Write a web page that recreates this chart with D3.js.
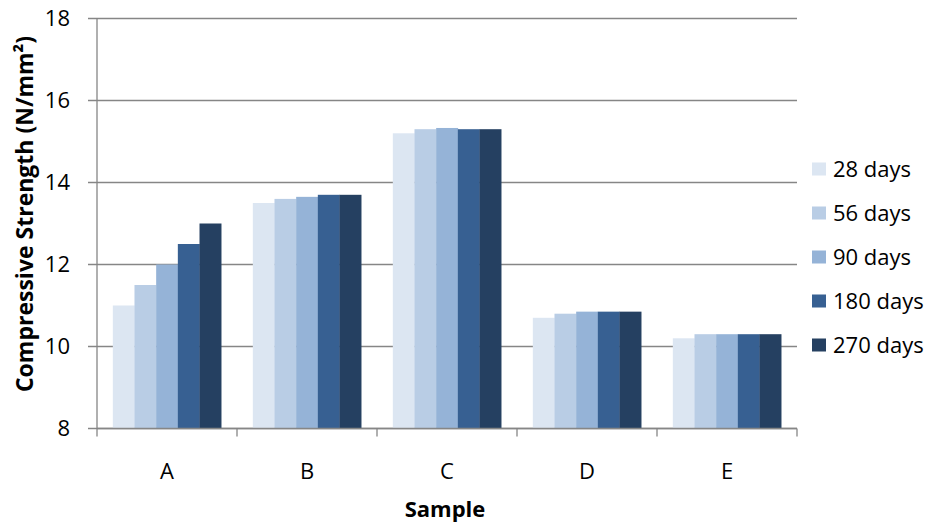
<!DOCTYPE html>
<html>
<head>
<meta charset="utf-8">
<script src="https://cdn.jsdelivr.net/npm/d3@7"></script>
<style>
  body { margin: 0; background: #fff; }
  svg { display: block; font-family: "Open Sans", sans-serif; }
</style>
</head>
<body>
<svg id="chart" width="930" height="524"></svg>
<script>
'use strict';

// - data
var samples = ['A', 'B', 'C', 'D', 'E'];
var ages = ['28 days', '56 days', '90 days', '180 days', '270 days'];
var colours = ['#dce6f2', '#b9cde5', '#95b3d7', '#376092', '#254061'];

var days28  = [11.0, 13.5, 15.2, 10.7, 10.2];
var days56  = [11.5, 13.6, 15.3, 10.8, 10.3];
var days90  = [12.0, 13.65, 15.33, 10.85, 10.3];
var days180 = [12.5, 13.7, 15.3, 10.85, 10.3];
var days270 = [13.0, 13.7, 15.3, 10.85, 10.3];
var series = [days28, days56, days90, days180, days270];

var yTicks = [8, 10, 12, 14, 16, 18];

// - layout
var plot = { left: 97, right: 797, top: 18.5, bottom: 428.5 };
var axisGrey = '#868686';

var svg = d3.select('#chart');

var x0 = d3.scaleBand()
	.domain(samples)
	.range([plot.left, plot.right])
	.padding(0);

var x1 = d3.scaleBand()
	.domain(ages)
	.range([0, x0.bandwidth()])
	.paddingInner(0)
	.paddingOuter(0.73);

var y = d3.scaleLinear()
	.domain([8, 18])
	.range([plot.bottom, plot.top]);

// gridlines (with the short outside tick on the left)
svg.append('g')
	.selectAll('line')
	.data(yTicks)
	.join('line')
		.attr('x1', plot.left - 9)
		.attr('x2', plot.right)
		.attr('y1', d => y(d))
		.attr('y2', d => y(d))
		.attr('stroke', axisGrey)
		.attr('stroke-width', 1.3);

// bars
var rows = [];
samples.forEach((s, i) => {
	ages.forEach((a, j) => {
		rows.push({ sample: s, age: a, value: series[j][i], colour: colours[j] });
	});
});

svg.append('g')
	.selectAll('rect')
	.data(rows)
	.join('rect')
		.attr('x', d => x0(d.sample) + x1(d.age))
		.attr('width', x1.bandwidth() + 0.3)
		.attr('y', d => y(d.value))
		.attr('height', d => y(8) - y(d.value))
		.attr('fill', d => d.colour);

// y axis line
svg.append('line')
	.attr('x1', plot.left).attr('x2', plot.left)
	.attr('y1', plot.top).attr('y2', plot.bottom)
	.attr('stroke', axisGrey).attr('stroke-width', 1.3);

// x axis line + ticks at category boundaries
svg.append('line')
	.attr('x1', plot.left).attr('x2', plot.right)
	.attr('y1', plot.bottom).attr('y2', plot.bottom)
	.attr('stroke', axisGrey).attr('stroke-width', 1.3);

var bounds = samples.map(s => x0(s)).concat([plot.right]);
svg.append('g')
	.selectAll('line')
	.data(bounds)
	.join('line')
		.attr('x1', d => d).attr('x2', d => d)
		.attr('y1', plot.bottom).attr('y2', plot.bottom + 8)
		.attr('stroke', axisGrey).attr('stroke-width', 1.3);

// tick labels
svg.append('g')
	.selectAll('text')
	.data(yTicks)
	.join('text')
		.attr('x', 70)
		.attr('y', d => y(d))
		.attr('dy', '0.35em')
		.attr('text-anchor', 'end')
		.attr('font-size', 22)
		.attr('fill', '#000')
		.text(d => d);

svg.append('g')
	.selectAll('text')
	.data(samples)
	.join('text')
		.attr('x', d => x0(d) + x0.bandwidth() / 2)
		.attr('y', 479)
		.attr('text-anchor', 'middle')
		.attr('font-size', 22)
		.attr('fill', '#000')
		.text(d => d);

// axis titles
svg.append('text')
	.attr('x', 445)
	.attr('y', 517)
	.attr('text-anchor', 'middle')
	.attr('font-size', 22)
	.attr('font-weight', 'bold')
	.text('Sample');

svg.append('text')
	.attr('transform', 'translate(33,214) rotate(-90)')
	.attr('text-anchor', 'middle')
	.attr('font-size', 23)
	.attr('font-weight', 'bold')
	.text('Compressive Strength (N/mm²)');

// legend
var legend = svg.append('g')
	.selectAll('g')
	.data(ages)
	.join('g')
		.attr('transform', (d, i) => `translate(812, ${169 + i * 44})`);

legend.append('rect')
	.attr('x', 0).attr('y', -6.5)
	.attr('width', 14).attr('height', 13)
	.attr('fill', (d, i) => colours[i]);

legend.append('text')
	.attr('x', 21)
	.attr('y', 0)
	.attr('dy', '0.35em')
	.attr('font-size', 22)
	.attr('fill', '#000')
	.text(d => d);
</script>
</body>
</html>
